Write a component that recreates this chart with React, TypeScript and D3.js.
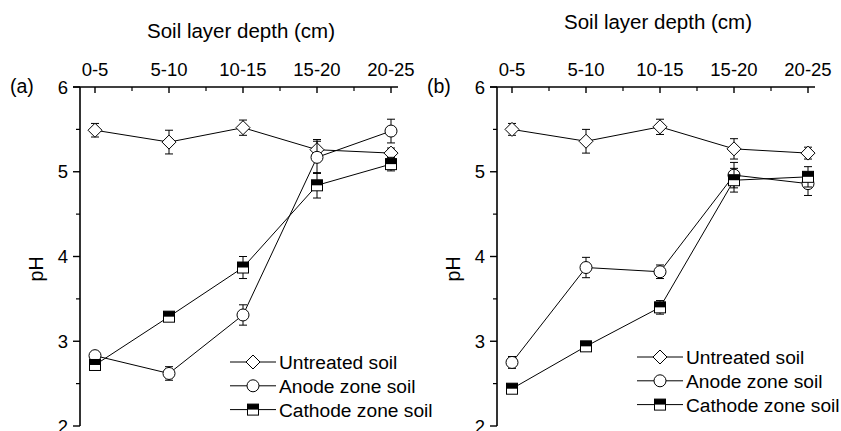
import React from "react";
import * as d3 from "d3";

const depths = ["0-5", "5-10", "10-15", "15-20", "20-25"];
const yTicks = [2, 3, 4, 5, 6];
const yMinorTicks = [2.5, 3.5, 4.5, 5.5];

// panel (a)
const untreatedA = [5.49, 5.35, 5.52, 5.26, 5.22];
const untreatedErrA = [0.08, 0.14, 0.09, 0.12, 0.06];
const anodeA = [2.83, 2.62, 3.31, 5.17, 5.48];
const anodeErrA = [0.04, 0.08, 0.12, 0.19, 0.14];
const cathodeA = [2.72, 3.29, 3.87, 4.84, 5.09];
const cathodeErrA = [0.05, 0.04, 0.13, 0.15, 0.08];

// panel (b)
const untreatedB = [5.5, 5.36, 5.53, 5.27, 5.22];
const untreatedErrB = [0.07, 0.14, 0.09, 0.12, 0.07];
const anodeB = [2.75, 3.87, 3.82, 4.96, 4.86];
const anodeErrB = [0.07, 0.12, 0.08, 0.15, 0.14];
const cathodeB = [2.44, 2.94, 3.4, 4.9, 4.94];
const cathodeErrB = [0.04, 0.04, 0.08, 0.14, 0.12];

const legendNames = ["Untreated soil", "Anode zone soil", "Cathode zone soil"];

const FONT = "'Liberation Sans', Arial, Helvetica, sans-serif";

type Shape = "diamond" | "circle" | "square";

const Marker = ({ shape, x, y }: { shape: Shape; x: number; y: number }) => {
  if (shape === "diamond") {
    const r = 7;
    return (
      <path
        d={`M${x},${y - r}L${x + r},${y}L${x},${y + r}L${x - r},${y}Z`}
        fill="#fff"
        stroke="#000"
        strokeWidth={1}
      />
    );
  }
  if (shape === "circle") {
    return <circle cx={x} cy={y} r={6} fill="#fff" stroke="#000" strokeWidth={1} />;
  }
  const h = 5.5;
  return (
    <g>
      <rect x={x - h} y={y - h} width={2 * h} height={2 * h} fill="#fff" stroke="#000" strokeWidth={1} />
      <rect x={x - h} y={y - h} width={2 * h} height={h} fill="#000" />
    </g>
  );
};

const Panel = ({ ox, label, titleY, legendX, legendY, series }) => {
  const x = d3.scalePoint<string>().domain(depths).range([ox + 15, ox + 311]);
  const y = d3.scaleLinear().domain([2, 6]).range([426, 87]);
  const axisEnd = ox + 318;
  const step = x.step();
  const line = d3
    .line<number>()
    .x((_, i) => x(depths[i]) as number)
    .y((d) => y(d));

  return (
    <g fontFamily={FONT} fill="#000">
      {/* title */}
      <text x={ox + 161} y={titleY} textAnchor="middle" fontSize={20.5}>
        Soil layer depth (cm)
      </text>
      <text x={ox - 70} y={93} fontSize={19.5}>
        {label}
      </text>
      <text transform={`translate(${ox - 37},269) rotate(-90)`} textAnchor="middle" fontSize={19.5}>
        pH
      </text>

      {/* top axis */}
      <line x1={ox - 7} x2={axisEnd} y1={y(6)} y2={y(6)} stroke="#000" strokeWidth={1.6} />
      {depths.map((d) => (
        <g key={d}>
          <line x1={x(d)} x2={x(d)} y1={y(6)} y2={y(6) + 6} stroke="#000" strokeWidth={1.4} />
          <text x={x(d)} y={76} textAnchor="middle" fontSize={18.5}>
            {d}
          </text>
        </g>
      ))}
      {depths.slice(0, -1).map((d) => (
        <line
          key={"m" + d}
          x1={(x(d) as number) + step / 2}
          x2={(x(d) as number) + step / 2}
          y1={y(6)}
          y2={y(6) + 4}
          stroke="#000"
          strokeWidth={1.2}
        />
      ))}

      {/* left axis */}
      <line x1={ox} x2={ox} y1={y(6)} y2={y(2)} stroke="#000" strokeWidth={1.6} />
      {yTicks.map((t) => (
        <g key={t}>
          <line x1={ox - 7} x2={ox} y1={y(t)} y2={y(t)} stroke="#000" strokeWidth={1.4} />
          <text x={ox - 12} y={y(t) + 6.5} textAnchor="end" fontSize={18.5}>
            {t}
          </text>
        </g>
      ))}
      {yMinorTicks.map((t) => (
        <line key={t} x1={ox - 4} x2={ox} y1={y(t)} y2={y(t)} stroke="#000" strokeWidth={1.2} />
      ))}

      {/* series */}
      {series.map((s) => (
        <g key={s.shape}>
          <path d={line(s.values) as string} fill="none" stroke="#000" strokeWidth={1} />
          {s.values.map((v, i) => {
            const cx = x(depths[i]) as number;
            return (
              <g key={i} stroke="#000" strokeWidth={1}>
                <line x1={cx} x2={cx} y1={y(v - s.err[i])} y2={y(v + s.err[i])} />
                <line x1={cx - 4} x2={cx + 4} y1={y(v + s.err[i])} y2={y(v + s.err[i])} />
                <line x1={cx - 4} x2={cx + 4} y1={y(v - s.err[i])} y2={y(v - s.err[i])} />
              </g>
            );
          })}
          {s.values.map((v, i) => (
            <Marker key={"k" + i} shape={s.shape} x={x(depths[i]) as number} y={y(v)} />
          ))}
        </g>
      ))}

      {/* legend */}
      {series.map((s, i) => {
        const ly = legendY + i * 23.8;
        return (
          <g key={"lg" + i}>
            <line x1={legendX} x2={legendX + 46} y1={ly} y2={ly} stroke="#000" strokeWidth={1} />
            <Marker shape={s.shape} x={legendX + 23} y={ly} />
            <text x={legendX + 49} y={ly + 7} fontSize={19.2}>
              {legendNames[i]}
            </text>
          </g>
        );
      })}
    </g>
  );
};

export default function App() {
  const seriesA = [
    { shape: "diamond", values: untreatedA, err: untreatedErrA },
    { shape: "circle", values: anodeA, err: anodeErrA },
    { shape: "square", values: cathodeA, err: cathodeErrA },
  ];
  const seriesB = [
    { shape: "diamond", values: untreatedB, err: untreatedErrB },
    { shape: "circle", values: anodeB, err: anodeErrB },
    { shape: "square", values: cathodeB, err: cathodeErrB },
  ];
  return (
    <svg width={841} height={431} style={{ position: "absolute", left: 0, top: 0, background: "#fff" }}>
      <Panel ox={80} label="(a)" titleY={38} legendX={230} legendY={362} series={seriesA} />
      <Panel ox={497} label="(b)" titleY={29} legendX={637} legendY={357} series={seriesB} />
    </svg>
  );
}
